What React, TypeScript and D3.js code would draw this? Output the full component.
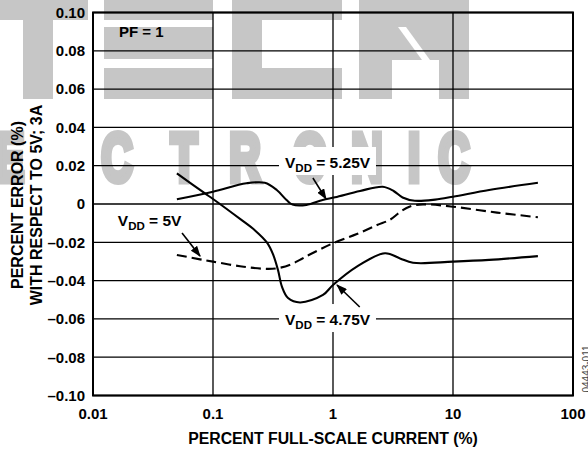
import React from 'react';
import * as d3 from 'd3';

// ---------- data ----------
const xTickValues = [0.01, 0.1, 1, 10, 100];
const xTickLabels = ['0.01', '0.1', '1', '10', '100'];
const yTickValues = [0.1, 0.08, 0.06, 0.04, 0.02, 0, -0.02, -0.04, -0.06, -0.08, -0.1];
const yTickLabels = ['0.10', '0.08', '0.06', '0.04', '0.02', '0', '\u20130.02', '\u20130.04', '\u20130.06', '\u20130.08', '\u20130.10'];

const current525 = [0.05, 0.1, 0.19, 0.27, 0.34, 0.41, 0.46, 0.6, 0.82, 1.04, 1.68, 2.6, 3.2, 3.8, 4.8, 7.1, 10, 20, 51];
const error525 = [0.00245, 0.0064, 0.0108, 0.0111, 0.0073, 0.0021, -0.0003, -0.0005, 0.0021, 0.0035, 0.0068, 0.009, 0.0068, 0.0034, 0.0017, 0.0023, 0.0038, 0.0073, 0.0111];

const current500 = [0.05, 0.078, 0.1, 0.168, 0.26, 0.34, 0.44, 0.53, 0.64, 1, 1.58, 2.33, 2.99, 3.62, 4.38, 5.62, 10, 23.3, 51];
const error500 = [-0.0266, -0.0289, -0.0301, -0.0325, -0.0338, -0.0336, -0.0317, -0.0292, -0.0264, -0.0205, -0.0157, -0.011, -0.0082, -0.0042, -0.0013, -0.0002, -0.0014, -0.0045, -0.0069];

const current475 = [0.05, 0.0858, 0.1, 0.168, 0.224, 0.282, 0.316, 0.348, 0.376, 0.422, 0.531, 0.825, 1, 1.58, 2.71, 3.62, 4.64, 10, 20, 51];
const error475 = [0.016, 0.0055, 0.0026, -0.0078, -0.0138, -0.0202, -0.0262, -0.0345, -0.0433, -0.0491, -0.0514, -0.0475, -0.0423, -0.0327, -0.0257, -0.0284, -0.0307, -0.0301, -0.0292, -0.0272];

// annotations (data coordinates)
const labelNames = ['5.25V', '5V', '4.75V'];
const labelX = [0.398, 0.0161, 0.398];
const labelY = [0.0188, -0.0115, -0.0632];
const arrowFromX = [0.68, 0.0552, 1.67];
const arrowFromY = [0.0136, -0.0151, -0.0538];
const arrowToX = [0.875, 0.078, 1.08];
const arrowToY = [0.0026, -0.0272, -0.0423];
const labelBoxed = [true, false, true];

const watermarkLetters = ['E', 'C', 'T', 'R', 'O', 'N', 'I', 'C'];
const watermarkCenters = [10, 117, 184, 245, 310, 367, 414, 454];

const W = 588;
const H = 449;
const L = 93, R = 573, T = 12.5, B = 395.5;
const FONT = '"Liberation Sans", Arial, Helvetica, sans-serif';
const GRAY = '#c6c6c6';

export default function App() {
  const x = d3.scaleLog().domain([0.01, 100]).range([L, R]);
  const y = d3.scaleLinear().domain([-0.1, 0.1]).range([B, T]);
  const line = d3
    .line<[number, number]>()
    .x((d) => x(d[0]))
    .y((d) => y(d[1]))
    .curve(d3.curveCatmullRom.alpha(0.5));

  const s525 = current525.map((c, i) => [c, error525[i]] as [number, number]);
  const s500 = current500.map((c, i) => [c, error500[i]] as [number, number]);
  const s475 = current475.map((c, i) => [c, error475[i]] as [number, number]);

  return (
    <svg width={W} height={H} style={{ position: 'absolute', left: 0, top: 0, background: '#fff' }} fontFamily={FONT}>
      <defs>
        <marker id="ah" markerUnits="userSpaceOnUse" markerWidth={11} markerHeight={8} refX={10} refY={4} orient="auto">
          <path d="M0,0 L11,4 L0,8 Z" fill="#000" />
        </marker>
      </defs>
      <rect x={0} y={0} width={W} height={H} fill="#fff" />

      {/* watermark */}
      <g fill={GRAY}>
        <rect x={0} y={0} width={88} height={20} />
        <rect x={23} y={0} width={30} height={99} />
        <rect x={104} y={0} width={109} height={20} />
        <rect x={104} y={27} width={109} height={32} />
        <rect x={104} y={68} width={109} height={31} />
        <path d="M232,0 H342 V20 H262 V68 H342 V99 H232 Z" />
        <rect x={359} y={0} width={33} height={99} />
        <path d="M392,0 H439 V60 H392 Z" />
        <rect x={439} y={0} width={30} height={99} />
      </g>
      <path d="M398,27 L406,27 L430,60 L422,60 Z" fill="#fff" />
      <g fill={GRAY} stroke={GRAY} strokeWidth={7} strokeLinejoin="miter" fontWeight="bold" fontSize={68}>
        {watermarkLetters.map((ch, i) => (
          <text key={i} textAnchor="middle" transform={`translate(${watermarkCenters[i]},181) scale(0.64,1)`}>
            {ch}
          </text>
        ))}
      </g>

      {/* grid */}
      <g stroke="#000" strokeWidth={1.3}>
        {yTickValues.map((v, i) => (
          <line key={'h' + i} x1={L} x2={R} y1={y(v)} y2={y(v)} />
        ))}
        {xTickValues.map((v, i) => (
          <line key={'v' + i} x1={x(v)} x2={x(v)} y1={T} y2={B} />
        ))}
      </g>
      <rect x={L} y={T} width={R - L} height={B - T} fill="none" stroke="#000" strokeWidth={2} />

      {/* tick labels */}
      <g fontSize={15} fontWeight="bold" fill="#000">
        {yTickValues.map((v, i) => (
          <text key={'yl' + i} x={85} y={y(v) + 5.3} textAnchor="end">
            {yTickLabels[i]}
          </text>
        ))}
        {xTickValues.map((v, i) => (
          <text key={'xl' + i} x={x(v)} y={419} textAnchor="middle">
            {xTickLabels[i]}
          </text>
        ))}
      </g>

      {/* axis titles */}
      <text x={(L + R) / 2} y={444} textAnchor="middle" fontSize={15.8} fontWeight="bold">
        PERCENT FULL-SCALE CURRENT (%)
      </text>
      <text transform="translate(22.5,205) rotate(-90)" textAnchor="middle" fontSize={16} fontWeight="bold">
        PERCENT ERROR (%)
      </text>
      <text transform="translate(42,205) rotate(-90)" textAnchor="middle" fontSize={16} fontWeight="bold">
        WITH RESPECT TO 5V; 3A
      </text>

      {/* curves */}
      <path d={line(s525) || ''} fill="none" stroke="#000" strokeWidth={2.1} />
      <path d={line(s475) || ''} fill="none" stroke="#000" strokeWidth={2.1} />
      <path d={line(s500) || ''} fill="none" stroke="#000" strokeWidth={2.1} strokeDasharray="10,5" />

      {/* PF label */}
      <text x={119} y={37} fontSize={15} fontWeight="bold">
        PF = 1
      </text>

      {/* annotations */}
      {labelNames.map((name, i) => {
        const lx = x(labelX[i]);
        const ly = y(labelY[i]);
        return (
          <g key={'ann' + i}>
            {labelBoxed[i] && <rect x={lx - 6} y={ly - 21} width={97} height={28} fill="#fff" />}
            <text x={lx} y={ly} fontSize={15.5} fontWeight="bold">
              V
              <tspan fontSize={11.5} dy={4}>
                DD
              </tspan>
              <tspan dy={-4}>{' = ' + name}</tspan>
            </text>
            <line
              x1={x(arrowFromX[i])}
              y1={y(arrowFromY[i])}
              x2={x(arrowToX[i])}
              y2={y(arrowToY[i])}
              stroke="#000"
              strokeWidth={1.6}
              markerEnd="url(#ah)"
            />
          </g>
        );
      })}

      {/* figure code */}
      <text transform="translate(590,369) rotate(-90)" textAnchor="middle" fontSize={10} fill="#444">
        04443-011
      </text>
    </svg>
  );
}
